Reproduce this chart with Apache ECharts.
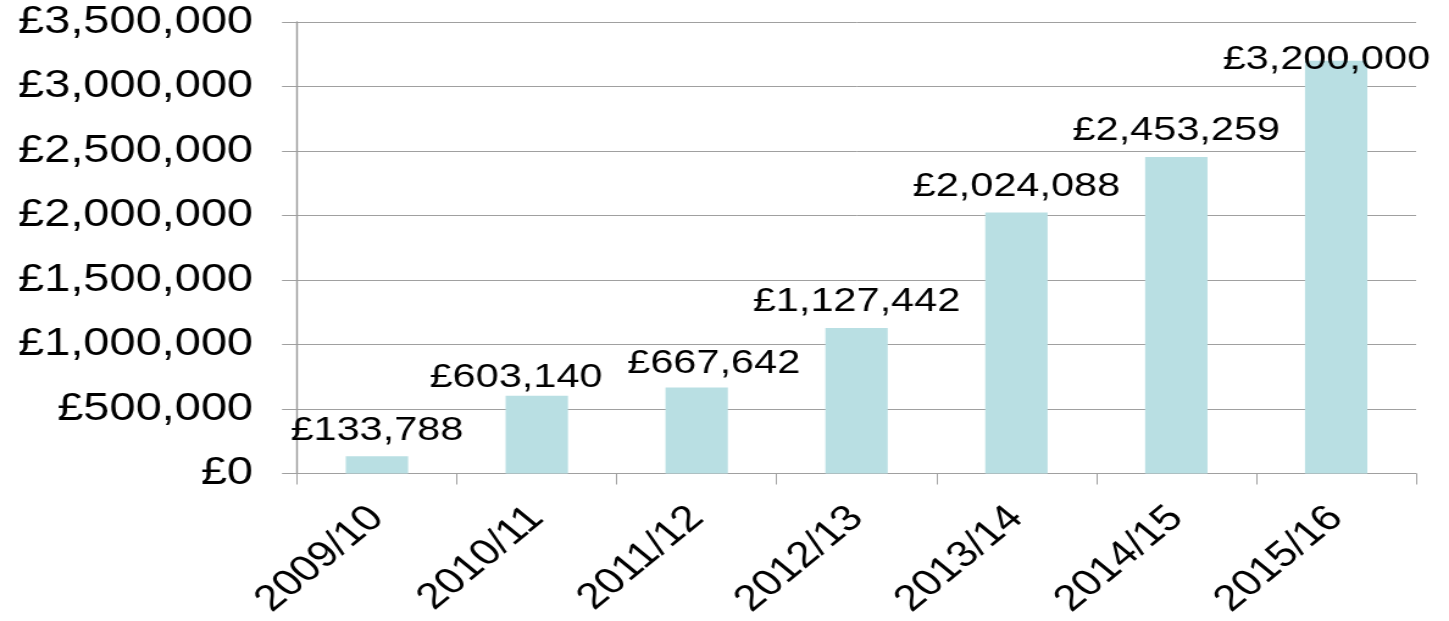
<!DOCTYPE html>
<html><head><meta charset="utf-8">
<script src="https://cdn.jsdelivr.net/npm/echarts@6/dist/echarts.min.js"></script>
<style>
html,body{margin:0;padding:0;background:#fff;overflow:hidden}
#c{width:1188px;height:621px;transform:scaleX(1.2197);transform-origin:0 0}
</style>
</head><body><div id="c"></div>
<script>
const categories = ['2009/10','2010/11','2011/12','2012/13','2013/14','2014/15','2015/16'];
const values = [133788, 603140, 667642, 1127442, 2024088, 2453259, 3200000];
const yTicks = [0, 500000, 1000000, 1500000, 2000000, 2500000, 3000000, 3500000];

const FONT = 'Liberation Sans';
const fmt = v => '£' + v.toLocaleString('en-GB');

// per-label placement tweaks (as in the original, labels nudged to avoid overlap)
const labelTweaks = {
  1: { offset: [-17, 8] },
  2: { offset: [14, 2] },
  6: { distance: -16, offset: [-8, 0] }
};

const data = values.map((v, i) => {
  const item = { value: v };
  if (labelTweaks[i]) item.label = Object.assign({ position: 'top' }, labelTweaks[i]);
  return item;
});

const chart = echarts.init(document.getElementById('c'));
chart.setOption({
  animation: false,
  grid: { left: 243.5, right: 27, top: 22, bottom: 138, containLabel: false },
  xAxis: {
    type: 'category', data: categories,
    axisLine: { lineStyle: { color: '#a0a0a0', width: 1 } },
    axisTick: { show: true, length: 11, alignWithLabel: false, lineStyle: { color: '#a0a0a0' } },
    axisLabel: { rotate: 45, margin: 39, color: '#000', fontFamily: FONT, fontSize: 36.5, interval: 0 }
  },
  yAxis: {
    type: 'value', min: yTicks[0], max: yTicks[yTicks.length - 1], interval: 500000,
    axisLine: { show: true, lineStyle: { color: '#999', width: 1.4 } },
    axisTick: { show: true, length: 12.3, lineStyle: { color: '#a0a0a0' } },
    splitLine: { lineStyle: { color: '#a0a0a0', width: 1 } },
    axisLabel: { margin: 36, color: '#000', fontFamily: FONT, fontSize: 38.5, formatter: v => fmt(v) }
  },
  series: [{
    type: 'bar', data: data, barWidth: '39%',
    itemStyle: { color: '#b9dfe3' },
    label: { show: true, position: 'top', distance: 9, color: '#000', fontFamily: FONT, fontSize: 34,
      formatter: p => fmt(p.value) }
  }]
});
</script></body></html>
